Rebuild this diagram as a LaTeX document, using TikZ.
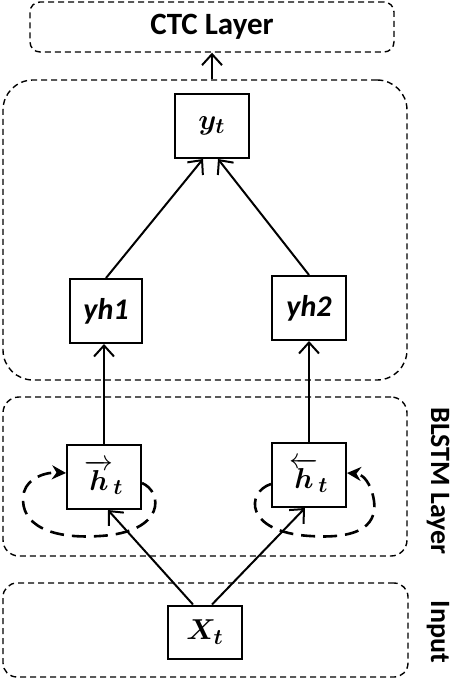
\documentclass[tikz,border=0pt]{standalone}
\usepackage{amsmath,amssymb}
\usepackage{fontspec}
\setmainfont{Carlito}
\usetikzlibrary{arrows.meta,calc}

\begin{document}
\begin{tikzpicture}[x=0.5pt,y=-0.5pt,
    layer/.style={draw,line width=0.7pt,dash pattern=on 3pt off 2pt,
                  inner sep=0pt},
    cell/.style={draw,line width=1pt,minimum width=37pt,minimum height=32pt,
                 inner sep=0pt,font=\fontsize{15}{17}\selectfont},
    sidelbl/.style={font=\fontsize{14}{16}\selectfont\bfseries,rotate=-90},
    arr/.style={-{Straight Barb[length=5.5pt,width=10pt]},line width=1pt},
    recur/.style={-{Stealth[length=7pt,width=7pt]},line width=1.3pt,
                  dash pattern=on 7pt off 4pt},
  ]
  \useasboundingbox (0,0) rectangle (466,684);

  % dashed layers
  \node[layer,rounded corners=5pt,minimum width=182pt,minimum height=25pt,
        font=\fontsize{15.5}{17}\selectfont\bfseries] (ctc) at (212,27) {CTC Layer};
  \node[layer,rounded corners=15pt,minimum width=202pt,minimum height=150pt]
        (outlayer) at (205,230) {};
  \node[layer,rounded corners=8pt,minimum width=202pt,minimum height=79.5pt]
        (blstm) at (205,476.5) {};
  \node[layer,rounded corners=7pt,minimum width=202.5pt,minimum height=47pt]
        (inlayer) at (205.5,630) {};

  \node[sidelbl] (blstmlbl) at (438,481) {BLSTM Layer};
  \node[sidelbl] (inlbl)    at (438,632) {Input};

  % cells
  \node[cell] (yt)  at (212,126) {$\boldsymbol{y_t}$};
  \node[cell,minimum width=36pt] (yh1) at (106,311) {\bfseries\itshape yh1};
  \node[cell] (yh2) at (309,308) {\bfseries\itshape yh2};
  \node[cell] (hf)  at (104,477) {$\overrightarrow{\boldsymbol{h}}_{\boldsymbol{t}}$};
  \node[cell] (hb)  at (309,475) {$\overleftarrow{\boldsymbol{h}}_{\boldsymbol{t}}$};
  \node[cell,minimum height=26.5pt] (xt) at (205,632) {$\boldsymbol{X_t}$};

  % connections
  \draw[arr] (ctc.south |- outlayer.north) -- (ctc.south);
  \draw[arr] (yh1.north) -- ($(yt.south)+(-9,0)$);
  \draw[arr] (yh2.north) -- ($(yt.south)+(6,0)$);
  \draw[arr] (hf.north) -- (hf.north |- yh1.south);
  \draw[arr] (hb.north) -- (hb.north |- yh2.south);
  \draw[arr] ($(xt.north)+(-12,0)$) -- ($(hf.south)+(4,0)$);
  \draw[arr] ($(xt.north)+(7,0)$) -- ($(hb.south)+(-4,0)$);

  % recurrent loops
  \draw[recur] ($(hf.east)+(0,6)$) .. controls (163,492) and (166,532) .. (100,536)
    .. controls (40,540) and (18,518) .. (24,492)
    .. controls (28,478) and (45,472) .. ($(hf.west)+(0,-4)$);
  \draw[recur] ($(hb.west)+(0,9)$) .. controls (246,492) and (244,532) .. (310,536)
    .. controls (370,540) and (380,518) .. (372,492)
    .. controls (368,480) and (362,474) .. ($(hb.east)+(0,-2)$);
\end{tikzpicture}
\end{document}
